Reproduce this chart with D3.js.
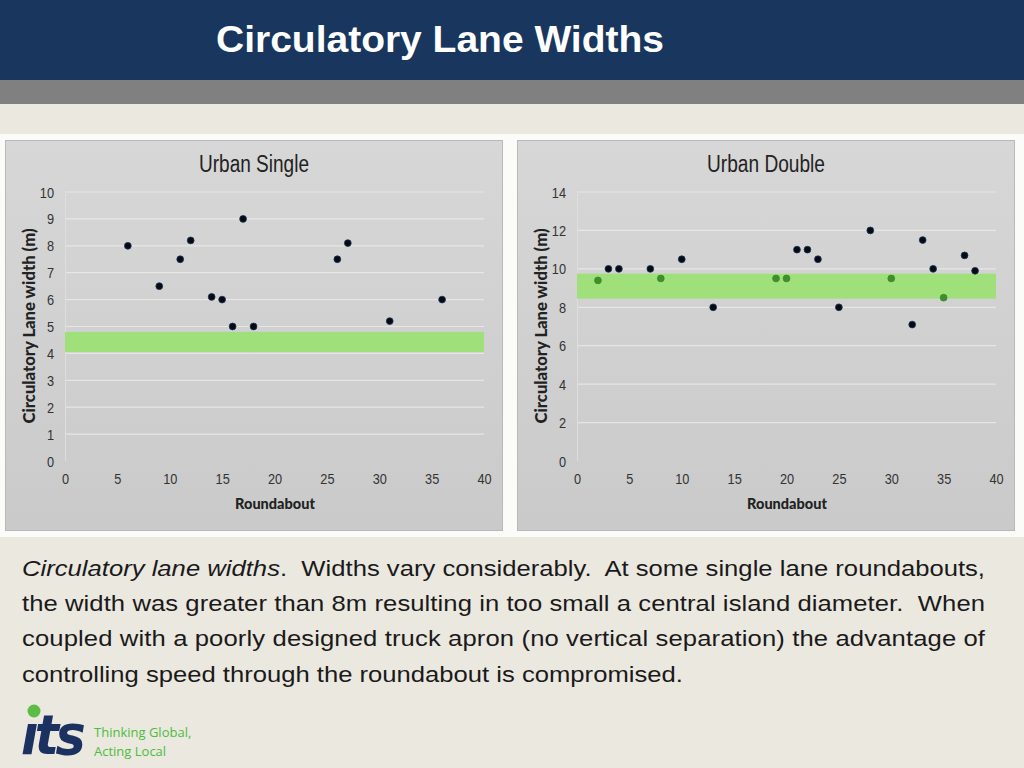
<!DOCTYPE html>
<html><head><meta charset="utf-8">
<script src="https://cdn.jsdelivr.net/npm/d3@7"></script>
<style>
html,body{margin:0;padding:0;background:#ebe8e0;}
svg{display:block;}
</style></head>
<body>
<svg id="c" width="1024" height="768"></svg>
<script>
// ---- data ----
const pageTitle = "Circulatory Lane Widths";
const singleTitle = "Urban Single";
const doubleTitle = "Urban Double";
const yLabel = "Circulatory Lane width (m)";
const xLabel = "Roundabout";
const xTicks = [0,5,10,15,20,25,30,35,40];
const singleYTicks = [0,1,2,3,4,5,6,7,8,9,10];
const doubleYTicks = [0,2,4,6,8,10,12,14];
const singleX = [6,9,11,12,14,15,16,17,18,26,27,31,36];
const singleY = [8,6.5,7.5,8.2,6.1,6.0,5.0,9.0,5.0,7.5,8.1,5.2,6.0];
const singleBand = [4.05,4.8];
const doubleX = [2,3,4,7,8,10,13,19,20,21,22,23,25,28,30,32,33,34,35,37,38];
const doubleY = [9.4,10,10,10,9.5,10.5,8,9.5,9.5,11,11,10.5,8,12,9.5,7.1,11.5,10,8.5,10.7,9.9];
const doubleBand = [8.45,9.75];
const paragraph = [
  [{t:"Circulatory lane widths",i:true},{t:".  Widths vary considerably.  At some single lane roundabouts,",i:false}],
  [{t:"the width was greater than 8m resulting in too small a central island diameter.  When",i:false}],
  [{t:"coupled with a poorly designed truck apron (no vertical separation) the advantage of",i:false}],
  [{t:"controlling speed through the roundabout is compromised.",i:false}]
];
const tagline = ["Thinking Global,","Acting Local"];

const svg = d3.select("#c");
const defs = svg.append("defs");
const grad = defs.append("linearGradient").attr("id","pg").attr("x1",0).attr("y1",0).attr("x2",0).attr("y2",1);
grad.append("stop").attr("offset","0%").attr("stop-color","#d7d7d7");
grad.append("stop").attr("offset","100%").attr("stop-color","#cacaca");

// page background
svg.append("rect").attr("width",1024).attr("height",768).attr("fill","#ebe8e0");
svg.append("rect").attr("width",1024).attr("height",80).attr("fill","#18365e");
svg.append("rect").attr("y",80).attr("width",1024).attr("height",24).attr("fill","#808080");
svg.append("rect").attr("y",134).attr("width",1024).attr("height",403).attr("fill","#fbfbfa");
svg.append("text").attr("x",216).attr("y",52).text(pageTitle)
  .attr("fill","#fff").attr("font-family","Liberation Sans, Arial, sans-serif")
  .attr("font-weight","bold").attr("font-size",36)
  .attr("textLength",448).attr("lengthAdjust","spacingAndGlyphs");

const narrow = "'Liberation Sans Narrow', 'Arial Narrow', 'Liberation Sans', sans-serif";
const labelFont = "Lato, 'Open Sans', sans-serif";

function chart(ox, title, titleLen, xs, ys, yTicks, yMax, band) {
  const g = svg.append("g").attr("transform",`translate(${ox},0)`);
  g.append("rect").attr("x",5.5).attr("y",140.5).attr("width",497).attr("height",390)
    .attr("fill","url(#pg)").attr("stroke","#b9b9b9");
  const x = d3.scaleLinear().domain([0,40]).range([65,484]);
  const y = d3.scaleLinear().domain([0,yMax]).range([461,192]);
  // gridlines
  g.append("g").selectAll("line").data(yTicks.filter(d=>d>0)).join("line")
    .attr("x1",x(0)).attr("x2",x(40)).attr("y1",d=>y(d)).attr("y2",d=>y(d))
    .attr("stroke","#ececec").attr("stroke-width",1.2).attr("opacity",0.8);
  g.append("line").attr("x1",x(0)+0.5).attr("x2",x(0)+0.5).attr("y1",y(yMax)).attr("y2",y(0))
    .attr("stroke","#dedede").attr("stroke-width",1);
  // band
  g.append("rect").attr("x",x(0)).attr("width",x(40)-x(0))
    .attr("y",y(band[1])).attr("height",y(band[0])-y(band[1])).attr("fill","#a0e07a");
  // axes
  const ax = g.append("g").attr("transform",`translate(0,${y(0)+9})`)
    .call(d3.axisBottom(x).tickValues(xTicks).tickSize(0).tickPadding(4));
  const ay = g.append("g").attr("transform",`translate(${x(0)-7},0)`)
    .call(d3.axisLeft(y).tickValues(yTicks).tickSize(0).tickPadding(4));
  [ax,ay].forEach(a=>{
    a.select(".domain").remove();
    a.selectAll("text").attr("font-family",narrow).attr("font-size",14.5).attr("fill","#333");
  });
  ax.selectAll(".tick text")
    .each(function(){ d3.select(this).attr("textLength", this.getComputedTextLength()*0.88).attr("lengthAdjust","spacingAndGlyphs"); });
  ay.selectAll(".tick text").attr("dy","0.35em")
    .each(function(){ d3.select(this).attr("textLength", this.getComputedTextLength()*0.88).attr("lengthAdjust","spacingAndGlyphs"); });
  // points
  g.append("g").selectAll("circle").data(xs.map((d,i)=>[d,ys[i]])).join("circle")
    .attr("cx",d=>x(d[0])).attr("cy",d=>y(d[1])).attr("r",3.4)
    .attr("fill",d=>(d[1]>=band[0]&&d[1]<=band[1])?"#3f8f2c":"#050a14")
    .attr("stroke",d=>(d[1]>=band[0]&&d[1]<=band[1])?"#3a8a28":"#1d3356").attr("stroke-width",0.8);
  // titles
  g.append("text").attr("x",254).attr("y",172).attr("text-anchor","middle").text(title)
    .attr("font-family",narrow).attr("font-size",23).attr("fill","#222")
    .attr("textLength",titleLen).attr("lengthAdjust","spacingAndGlyphs");
  g.append("text").attr("x",275).attr("y",509).attr("text-anchor","middle").text(xLabel)
    .attr("font-family",labelFont).attr("font-weight","900").attr("font-size",14.5).attr("fill","#222");
  g.append("text").attr("transform","translate(35,326) rotate(-90)").attr("text-anchor","middle").text(yLabel)
    .attr("font-family",labelFont).attr("font-weight","900").attr("font-size",16).attr("fill","#222")
    .attr("textLength",195).attr("lengthAdjust","spacingAndGlyphs");
}
chart(0, singleTitle, 110, singleX, singleY, singleYTicks, 10, singleBand);
chart(512, doubleTitle, 118, doubleX, doubleY, doubleYTicks, 14, doubleBand);

// paragraph (justified lines except the last)
const sx = 1.165;
const para = svg.append("g").attr("transform",`translate(22,0) scale(${sx},1)`);
paragraph.forEach((line,i)=>{
  const t = para.append("text").attr("x",0).attr("y",576+i*35.2)
    .attr("font-family","'Liberation Sans', Arial, sans-serif").attr("font-size",22).attr("fill","#1a1a1a")
    .attr("xml:space","preserve");
  line.forEach(s=>{
    t.append("tspan").text(s.t).attr("font-style",s.i?"italic":"normal").style("white-space","pre");
  });
  if (i < paragraph.length-1) t.attr("textLength",963/sx).attr("lengthAdjust","spacing");
});

// logo
svg.append("text").attr("x",21).attr("y",754).text("\u0131ts")
  .attr("font-family","'DejaVu Sans', sans-serif").attr("font-weight","bold").attr("font-style","italic")
  .attr("font-size",56).attr("letter-spacing",-4).attr("fill","#1b3160")
  .attr("textLength",61).attr("lengthAdjust","spacingAndGlyphs");
svg.append("circle").attr("cx",34).attr("cy",711).attr("r",6.5).attr("fill","#5bbd45");
tagline.forEach((s,i)=>svg.append("text").attr("x",94).attr("y",737+i*19).text(s)
  .attr("font-family","'Open Sans', sans-serif").attr("font-size",13).attr("fill","#4cbc3c"));
</script>
</body></html>
